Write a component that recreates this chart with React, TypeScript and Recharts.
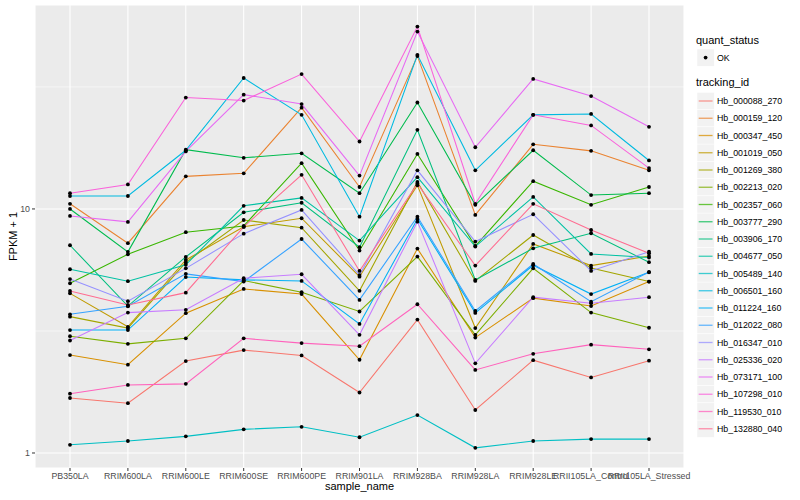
import { LineChart, Line, XAxis, YAxis, CartesianGrid, ReferenceLine } from 'recharts';

// samples on the x axis
const samples = [
	'PB350LA',
	'RRIM600LA',
	'RRIM600LE',
	'RRIM600SE',
	'RRIM600PE',
	'RRIM901LA',
	'RRIM928BA',
	'RRIM928LA',
	'RRIM928LE',
	'RRII105LA_Control',
	'RRII105LA_Stressed',
];

// FPKM + 1 per tracking_id, one value per sample
const hb000088_270 = [1.68, 1.6, 2.38, 2.64, 2.51, 1.77, 3.52, 1.5, 2.4, 2.04, 2.39];
const hb000159_120 = [10.5, 7.24, 13.6, 14.0, 26.0, 12.3, 42.3, 9.45, 18.4, 17.3, 14.4];
const hb000347_450 = [2.52, 2.3, 3.74, 4.7, 4.48, 2.41, 6.88, 2.97, 4.31, 4.0, 5.04];
const hb001019_050 = [4.51, 3.29, 6.18, 8.46, 9.16, 5.28, 12.5, 3.25, 7.19, 5.86, 6.42];
const hb001269_380 = [3.62, 3.25, 6.04, 9.01, 8.38, 4.62, 12.9, 5.07, 7.82, 5.73, 5.04];
const hb002213_020 = [3.01, 2.8, 2.95, 5.09, 4.56, 3.8, 6.38, 3.05, 5.71, 3.76, 3.26];
const hb002357_060 = [4.96, 6.52, 8.03, 8.52, 15.4, 6.75, 16.8, 7.05, 13.0, 10.4, 12.3];
const hb003777_290 = [10.0, 6.67, 17.5, 16.2, 16.9, 11.6, 27.3, 10.4, 17.4, 11.4, 11.6];
const hb003906_170 = [7.1, 4.0, 6.36, 9.69, 10.6, 6.97, 21.1, 5.12, 6.9, 7.95, 6.05];
const hb004677_050 = [5.66, 5.06, 5.9, 10.3, 11.1, 7.42, 13.5, 7.01, 11.2, 6.54, 6.32];
const hb005489_140 = [1.08, 1.12, 1.17, 1.25, 1.28, 1.16, 1.43, 1.05, 1.12, 1.14, 1.14];
const hb006501_160 = [11.3, 11.3, 17.4, 34.4, 24.3, 9.3, 42.8, 14.4, 24.3, 24.5, 15.8];
const hb011224_160 = [3.19, 3.19, 5.26, 5.12, 5.07, 3.38, 9.1, 3.75, 5.88, 4.48, 5.5];
const hb012022_080 = [3.7, 3.99, 5.42, 5.04, 7.53, 4.24, 9.3, 3.82, 5.95, 4.17, 5.52];
const hb016347_010 = [5.16, 4.19, 5.71, 7.92, 9.91, 5.36, 14.4, 7.35, 9.51, 5.57, 6.68];
const hb025336_020 = [2.89, 3.76, 3.86, 5.2, 5.4, 3.05, 8.87, 2.33, 4.35, 4.11, 4.35];
const hb073171_100 = [9.36, 8.85, 17.2, 29.4, 26.9, 13.7, 53.3, 17.9, 34.1, 29.0, 21.7];
const hb107298_010 = [11.6, 12.6, 28.6, 27.8, 35.7, 18.9, 55.9, 10.5, 24.3, 22.0, 14.7];
const hb119530_010 = [1.75, 1.9, 1.92, 2.95, 2.82, 2.74, 4.07, 2.19, 2.55, 2.78, 2.66];
const hb132880_040 = [4.61, 4.04, 4.54, 8.44, 13.8, 5.57, 12.7, 5.86, 10.5, 8.2, 6.58];

const trackingIds = [
	'Hb_000088_270',
	'Hb_000159_120',
	'Hb_000347_450',
	'Hb_001019_050',
	'Hb_001269_380',
	'Hb_002213_020',
	'Hb_002357_060',
	'Hb_003777_290',
	'Hb_003906_170',
	'Hb_004677_050',
	'Hb_005489_140',
	'Hb_006501_160',
	'Hb_011224_160',
	'Hb_012022_080',
	'Hb_016347_010',
	'Hb_025336_020',
	'Hb_073171_100',
	'Hb_107298_010',
	'Hb_119530_010',
	'Hb_132880_040',
];

const seriesValues = [
	hb000088_270, hb000159_120, hb000347_450, hb001019_050, hb001269_380,
	hb002213_020, hb002357_060, hb003777_290, hb003906_170, hb004677_050,
	hb005489_140, hb006501_160, hb011224_160, hb012022_080, hb016347_010,
	hb025336_020, hb073171_100, hb107298_010, hb119530_010, hb132880_040,
];

// ggplot default hue palette, 20 levels
const colors = [
	'#F8766D', '#EA8331', '#D89000', '#C09B00', '#A3A500',
	'#7CAE00', '#39B600', '#00BB4E', '#00BF7D', '#00C1A3',
	'#00BFC4', '#00BAE0', '#00B0F6', '#35A2FF', '#9590FF',
	'#C77CFF', '#E76BF3', '#FA62DB', '#FF62BC', '#FF6C91',
];

const majorBreaks = [1, 10];
const minorBreaks = [3.162, 31.62];
const yDomain = [0.868, 68.5];

const rows = samples.map((sample, i) => {
	const row: Record<string, string | number> = { sample };
	trackingIds.forEach((id, k) => {
		row[id] = seriesValues[k][i];
	});
	return row;
});

const FONT = '"Liberation Sans", Arial, Helvetica, sans-serif';

const Legend = () => {
	const keyX = 697;
	const step = 17.25;
	const firstY = 101;
	return (
		<svg
			width={800}
			height={500}
			style={{ position: 'absolute', left: 0, top: 0, pointerEvents: 'none', fontFamily: FONT }}
		>
			<text x={696} y={44} fontSize={11} fill="#000">quant_status</text>
			<rect x={keyX} y={49} width={17.25} height={17.25} fill="#F2F2F2" stroke="#fff" strokeWidth={0.5} />
			<circle cx={keyX + 8.6} cy={57.6} r={1.9} fill="#000" />
			<text x={717} y={60.8} fontSize={8.8} fill="#000">OK</text>

			<text x={696} y={86} fontSize={11} fill="#000">tracking_id</text>
			{trackingIds.map((id, i) => {
				const cy = firstY + i * step;
				return (
					<g key={id}>
						<rect x={keyX} y={cy - step / 2} width={step} height={step} fill="#F2F2F2" stroke="#fff" strokeWidth={0.5} />
						<line x1={keyX + 1.7} x2={keyX + step - 1.7} y1={cy} y2={cy} stroke={colors[i]} strokeWidth={1.3} strokeOpacity={0.75} />
						<text x={717} y={cy + 3.2} fontSize={8.8} fill="#000">{id}</text>
					</g>
				);
			})}
		</svg>
	);
};

export default function App() {
	return (
		<div style={{ position: 'relative', width: 800, height: 500, fontFamily: FONT, background: '#fff' }}>
			<style>{'body{margin:0}'}</style>
			<LineChart width={800} height={500} data={rows} margin={{ top: 5, right: 116, bottom: 0, left: 0 }}>
				<CartesianGrid fill="#EBEBEB" stroke="#FFFFFF" strokeWidth={1.07} />
				{minorBreaks.map((v) => (
					<ReferenceLine key={v} y={v} stroke="#FFFFFF" strokeWidth={0.55} />
				))}
				<XAxis
					dataKey="sample"
					interval={0}
					padding={{ left: 35, right: 35 }}
					height={32}
					tickSize={3}
					tickMargin={2}
					axisLine={false}
					tickLine={{ stroke: '#333333' }}
					tick={{ fontSize: 8.8, fill: '#4D4D4D' }}
					label={{ value: 'sample_name', position: 'insideBottom', offset: 10, fontSize: 11, fill: '#000' }}
				/>
				<YAxis
					type="number"
					scale="log"
					domain={yDomain}
					allowDataOverflow
					ticks={majorBreaks}
					width={35}
					tickSize={3}
					tickMargin={2}
					axisLine={false}
					tickLine={{ stroke: '#333333' }}
					tick={{ fontSize: 8.8, fill: '#4D4D4D' }}
					label={{
						value: 'FPKM + 1',
						angle: -90,
						position: 'insideLeft',
						offset: 13,
						fontSize: 11,
						fill: '#000',
						style: { textAnchor: 'middle' },
					}}
				/>
				{trackingIds.map((id, i) => (
					<Line
						key={id}
						dataKey={id}
						stroke={colors[i]}
						strokeWidth={1.07}
						dot={false}
						activeDot={false}
						isAnimationActive={false}
					/>
				))}
				{trackingIds.map((id) => (
					<Line
						key={id + '_pt'}
						dataKey={id}
						stroke="none"
						dot={{ r: 1.9, fill: '#000000', stroke: 'none' }}
						activeDot={false}
						isAnimationActive={false}
					/>
				))}
			</LineChart>
			<Legend />
		</div>
	);
}
